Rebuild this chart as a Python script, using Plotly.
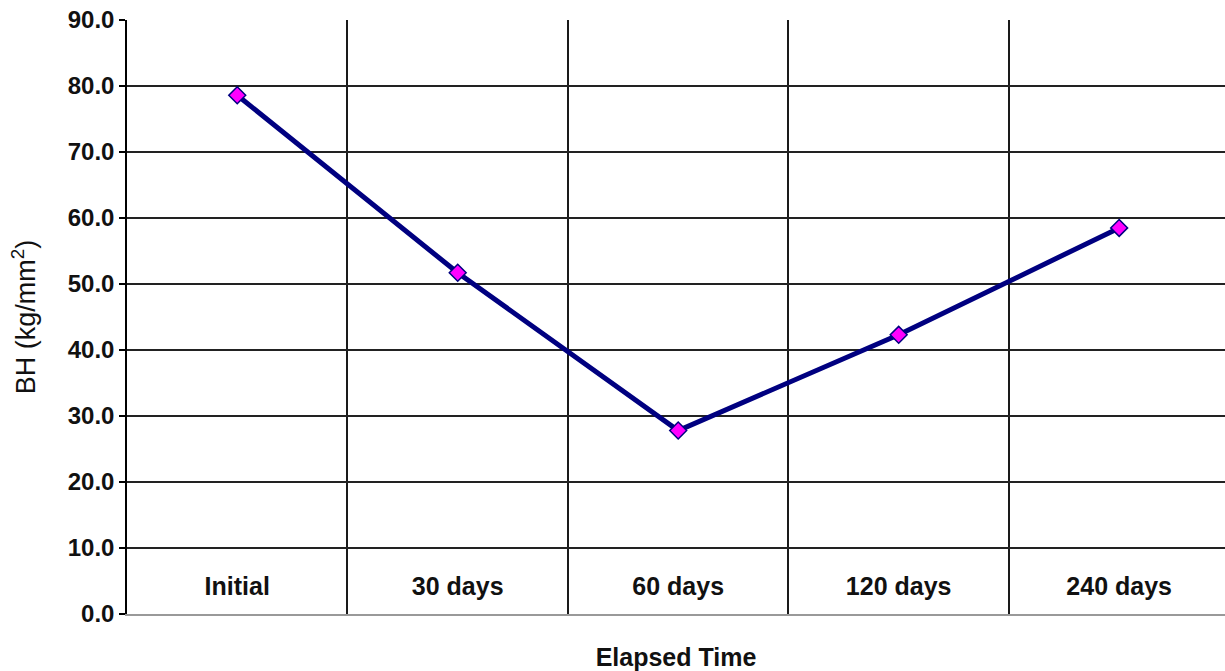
import plotly.graph_objects as go

categories = ["Initial", "30 days", "60 days", "120 days", "240 days"]
bh_values = [78.6, 51.7, 27.8, 42.3, 58.5]
label_level = [3.8] * len(categories)
y_ticks = [0, 10, 20, 30, 40, 50, 60, 70, 80, 90]

FONT = "Liberation Sans, Arial, sans-serif"

fig = go.Figure()
fig.add_trace(go.Scatter(
    x=categories, y=bh_values, mode="lines+markers",
    line=dict(color="#000080", width=5),
    marker=dict(symbol="diamond", size=13, color="#FF00FF",
                line=dict(color="#000080", width=1.5)),
    showlegend=False, hoverinfo="skip",
))
fig.add_trace(go.Scatter(
    x=categories, y=label_level, mode="text", text=categories,
    textfont=dict(family=FONT, size=25, color="#111111", weight="bold"),
    showlegend=False, hoverinfo="skip",
))

fig.update_layout(
    width=1225, height=671,
    margin=dict(l=127, r=0, t=20, b=57),
    paper_bgcolor="white", plot_bgcolor="white",
    font=dict(family=FONT, color="#111111"),
)
fig.update_xaxes(
    type="category", categoryorder="array", categoryarray=categories,
    range=[-0.5, 4.48], tickson="boundaries",
    showgrid=True, gridcolor="#1a1a1a", gridwidth=1.5,
    showticklabels=False, ticks="",
    showline=True, linecolor="#999999", linewidth=2,
    zeroline=False, automargin=False,
    title=dict(text="<b>Elapsed Time</b>", font=dict(size=25, family=FONT), standoff=36),
)
fig.update_yaxes(
    range=[0, 90], tickvals=y_ticks, tickformat=".1f",
    showgrid=True, gridcolor="#222222", gridwidth=1.5,
    ticks="outside", ticklen=6, tickcolor="#000", tickwidth=1.5,
    showline=True, linecolor="#000", linewidth=1.5,
    zeroline=False, automargin=False,
    tickfont=dict(family=FONT, size=24, weight="bold", color="#111111"),
    title=dict(text="BH (kg/mm<sup>2</sup>)", font=dict(size=27, family=FONT), standoff=24),
)

fig.write_html("out.html", config={"displayModeBar": False},
               post_script="document.body.style.margin='0';")
